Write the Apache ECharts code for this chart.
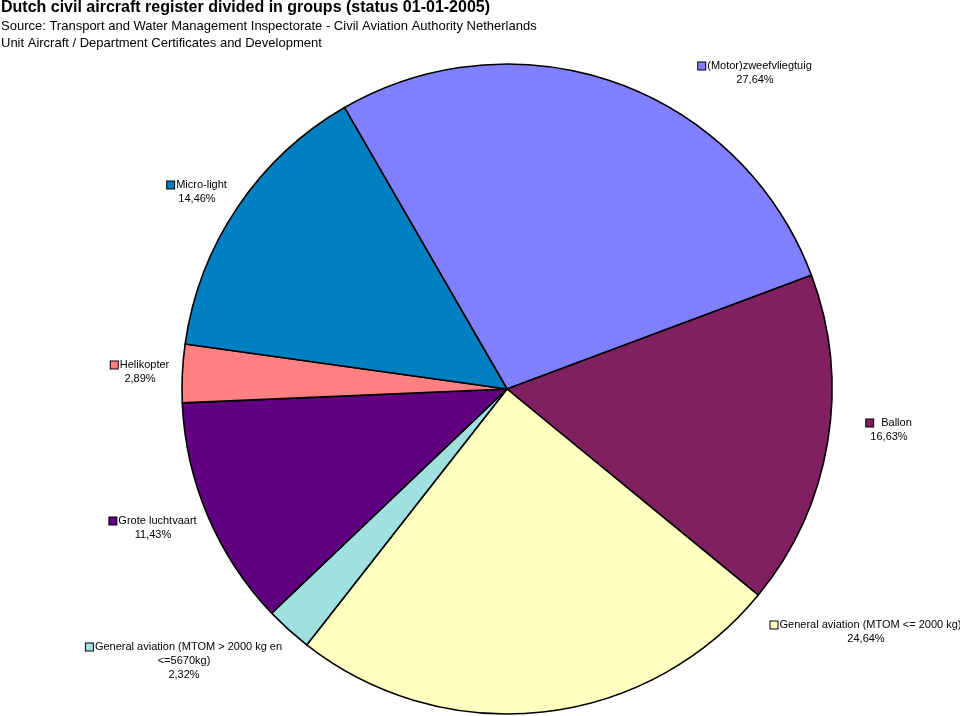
<!DOCTYPE html>
<html><head><meta charset="utf-8">
<script src="https://cdn.jsdelivr.net/npm/echarts@6/dist/echarts.min.js"></script>
<style>html,body{margin:0;padding:0;background:#fff}#c{width:960px;height:716px}</style>
</head><body><div id="c"></div>
<script>
const categories = ['(Motor)zweefvliegtuig','Ballon','General aviation (MTOM <= 2000 kg)','General aviation (MTOM > 2000 kg en\n<=5670kg)','Grote luchtvaart','Helikopter','Micro-light'];
const values = [27.64, 16.63, 24.64, 2.32, 11.43, 2.89, 14.46];
const colors = ['#8080FF','#802060','#FFFFC0','#A0E0E0','#600080','#FF8080','#0080C0'];
const labelPos = [[755,59],[889,416],[866,618],[184,640],[153,514],[140,358],[197,178]];
const namePad = [2,8,2,2,2,2,2];

const chart = echarts.init(document.getElementById('c'));
const data = categories.map((n,i)=>({
  name:n, value:values[i],
  itemStyle:{color:colors[i]},
  label:{rich:{
    sq:{width:7,height:7,backgroundColor:colors[i],borderColor:'#000',borderWidth:1},
    n:{fontSize:11,color:'#000',fontFamily:'Liberation Sans, Arial',lineHeight:14,padding:[0,0,0,namePad[i]]},
    m:{fontSize:11,color:'#000',fontFamily:'Liberation Sans, Arial',lineHeight:14},
    p:{fontSize:11,color:'#000',fontFamily:'Liberation Sans, Arial',lineHeight:14}
  }}
}));
chart.setOption({
  animation:false,
  title:[
    {text:'Dutch civil aircraft register divided in groups (status 01-01-2005)',left:1,top:0,padding:0,textStyle:{fontFamily:'Liberation Sans, Arial',fontSize:16,fontWeight:'bold',color:'#000'}},
    {text:'Source: Transport and Water Management Inspectorate - Civil Aviation Authority Netherlands\nUnit Aircraft / Department Certificates and Development',left:1,top:18,padding:0,textStyle:{fontFamily:'Liberation Sans, Arial',fontSize:13,fontWeight:'normal',color:'#000',lineHeight:17}}
  ],
  series:[{
    type:'pie',
    center:[507,389],
    radius:325,
    startAngle:120,
    clockwise:true,
    data:data,
    itemStyle:{borderColor:'#000',borderWidth:1.6},
    emphasis:{disabled:true},
    labelLine:{show:false},
    label:{
      show:true,
      align:'center',
      formatter:function(p){
        const parts = p.name.split('\n');
        let s = '{sq|}{n|' + parts[0] + '}';
        for(let k=1;k<parts.length;k++) s += '\n{m|' + parts[k] + '}';
        s += '\n{p|' + p.value.toFixed(2).replace('.',',') + '%}';
        return s;
      }
    },
    labelLayout:function(params){
      const pos = labelPos[params.dataIndex];
      return {x:pos[0],y:pos[1],align:'center',verticalAlign:'top'};
    }
  }]
});
</script></body></html>
